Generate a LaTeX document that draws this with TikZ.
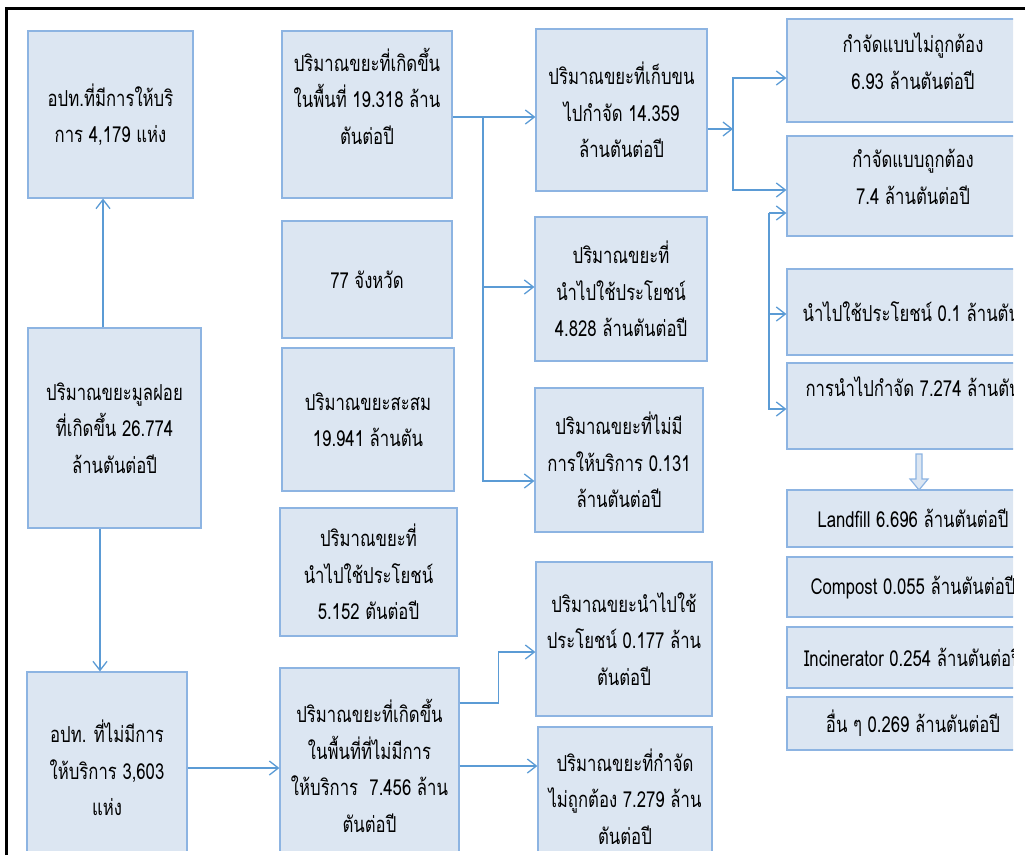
\documentclass[tikz,border=0pt]{standalone}
\usepackage{fontspec}
\newfontfamily\thaifont[Script=Thai,FakeStretch=0.76]{Loma}
\usetikzlibrary{arrows.meta}

\definecolor{boxfill}{RGB}{220,230,242}
\definecolor{boxline}{RGB}{141,180,226}
\definecolor{flowline}{RGB}{91,155,213}

\tikzset{
  box/.style={draw=boxline, fill=boxfill, line width=1.2pt, align=center, inner sep=0pt,
    font=\thaifont\fontsize{22}{36.5}\selectfont},
  lbl/.style={inner sep=0pt, font=\thaifont\fontsize{22}{36.5}\selectfont},
  flow/.style={draw=flowline, line width=1.3pt, -{Straight Barb[length=9pt,width=14pt]}},
}

\begin{document}
\begin{tikzpicture}[x=1pt,y=-1pt]
    \useasboundingbox (0,0) rectangle (1025,855);
    \begin{scope}
        \clip (0,0) rectangle (1013,850);
        % left column
        \node[box, minimum width=165pt, minimum height=167pt] (a1) at (110.5,114.5) {อปท.ที่มีการให้บริ\\การ 4,179 แห่ง};
        \node[box, minimum width=173pt, minimum height=200pt] (a2) at (114.5,428) {ปริมาณขยะมูลฝอย\\ที่เกิดขึ้น 26.774\\ล้านตันต่อปี};
        \node[box, minimum width=160pt, minimum height=192pt] (a3) at (107,768) {อปท. ที่ไม่มีการ\\ให้บริการ 3,603\\แห่ง};

        % second column
        \node[box, minimum width=170pt, minimum height=167pt] (b1) at (367,114.5) {ปริมาณขยะที่เกิดขึ้น\\ในพื้นที่ 19.318 ล้าน\\ตันต่อปี\\~};
        \node[box, minimum width=170pt, minimum height=117pt] (b2) at (367,279.5) {77 จังหวัด};
        \node[box, minimum width=172pt, minimum height=143pt] (b3) at (368,419.5) {ปริมาณขยะสะสม\\19.941 ล้านตัน};
        \node[box, minimum width=177pt, minimum height=128pt] (b4) at (368.5,572) {ปริมาณขยะที่\\นำไปใช้ประโยชน์\\5.152 ตันต่อปี};
        \node[box, minimum width=179pt, minimum height=196pt] (b5) at (369.5,766) {ปริมาณขยะที่เกิดขึ้น\\ในพื้นที่ที่ไม่มีการ\\ให้บริการ~~7.456 ล้าน\\ตันต่อปี};

        % third column
        \node[box, minimum width=171pt, minimum height=162pt] (c1) at (621.5,110) {ปริมาณขยะที่เก็บขน\\ไปกำจัด 14.359\\ล้านตันต่อปี};
        \node[box, minimum width=172pt, minimum height=144pt] (c2) at (621,289) {ปริมาณขยะที่\\นำไปใช้ประโยชน์\\4.828 ล้านตันต่อปี};
        \node[box, minimum width=168pt, minimum height=144pt] (c3) at (619,460) {ปริมาณขยะที่ไม่มี\\การให้บริการ 0.131\\ล้านตันต่อปี};
        \node[box, minimum width=176pt, minimum height=154pt] (c4) at (624,639) {ปริมาณขยะนำไปใช้\\ประโยชน์ 0.177 ล้าน\\ตันต่อปี};
        \node[box, minimum width=174pt, minimum height=146pt] (c5) at (625,800) {};
        \node[lbl, align=center, anchor=north] (c5t) at ([yshift=-22pt]c5.north) {ปริมาณขยะที่กำจัด\\ไม่ถูกต้อง 7.279 ล้าน\\ตันต่อปี};

        % right column
        \node[box, minimum width=252pt, minimum height=103pt] (d1) at (913,70.5) {กำจัดแบบไม่ถูกต้อง\\6.93 ล้านตันต่อปี\\[-18pt]~};
        \node[box, minimum width=252pt, minimum height=100pt] (d2) at (913,186) {กำจัดแบบถูกต้อง\\7.4 ล้านตันต่อปี\\[-18pt]~};
        \node[box, minimum width=252pt, minimum height=86pt] (d3) at (913,312) {};
        \node[lbl, anchor=west] (d3t) at ([xshift=16pt]d3.west) {นำไปใช้ประโยชน์ 0.1 ล้านตัน};
        \node[box, minimum width=252pt, minimum height=86pt] (d4) at (913,406) {};
        \node[lbl, anchor=west] (d4t) at ([xshift=19pt,yshift=19pt]d4.west) {การนำไปกำจัด 7.274 ล้านตัน};
        \node[box, minimum width=252pt, minimum height=57pt] (e1) at (913,518.5) {Landfill 6.696 ล้านตันต่อปี};
        \node[box, minimum width=252pt, minimum height=60pt] (e2) at (913,587) {Compost 0.055 ล้านตันต่อปี};
        \node[box, minimum width=252pt, minimum height=61pt] (e3) at (913,657.5) {Incinerator 0.254 ล้านตันต่อปี};
        \node[box, minimum width=252pt, minimum height=53pt] (e4) at (913,723.5) {อื่น ๆ 0.269 ล้านตันต่อปี};

        % hollow arrow from d4 down to e1
        \draw[boxline, fill=boxfill, line width=1.2pt] (916,454) -- (922,454) -- (922,479) -- (928,479)
            -- (919,490) -- (910,479) -- (916,479) -- cycle;

        % connectors
        \draw[flow] ([xshift=-11.5pt]a2.north) -- ([xshift=-11.5pt]a2.north |- a1.south);
        \draw[flow] ([xshift=-14.5pt]a2.south) -- ([xshift=-14.5pt]a2.south |- a3.north);
        \draw[flow] (a3.east) -- (a3.east -| b5.west);

        \coordinate (s1) at (483,117);
        \draw[flow] ([yshift=-2.5pt]b1.east) -- ([yshift=-2.5pt]b1.east -| c1.west);
        \draw[flow] (s1) |- ([yshift=2pt]c2.west);
        \draw[flow] (s1) |- ([yshift=-21pt]c3.west);

        \draw[flow] ([yshift=63pt]b5.east) -- ++(39,0) |- ([yshift=-13pt]c4.west);
        \draw[flow] (b5.east) -- (b5.east -| c5.west);

        \coordinate (j1) at (733,129);
        \draw[flow] ([yshift=-19pt]c1.east) -- (j1);
        \draw[flow] (j1) |- ([yshift=-7.5pt]d1.west);
        \draw[flow] (j1) |- ([yshift=-4pt]d2.west);

        \coordinate (s2) at (769,213);
        \draw[flow] (s2) -- ([yshift=-27pt]d2.west);
        \draw[flow] (s2) |- ([yshift=-2pt]d3.west);
        \draw[flow] (s2) |- ([yshift=-3pt]d4.west);
    \end{scope}

    % frame
    \draw[line width=2.5pt] (6.5,855) -- (6.5,8.5) -- (1025,8.5);
\end{tikzpicture}
\end{document}
